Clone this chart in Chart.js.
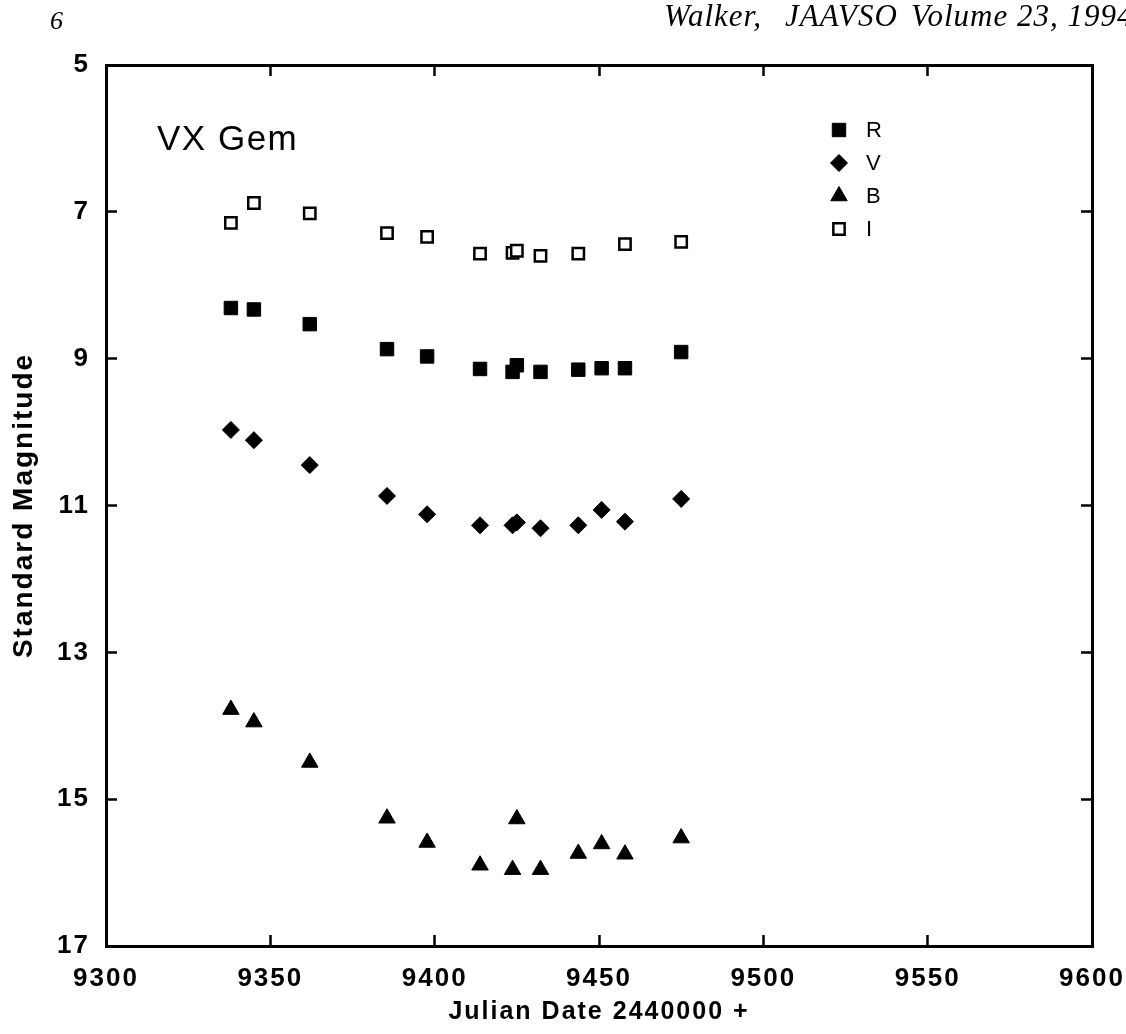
<!DOCTYPE html>
<html>
<head>
<meta charset="utf-8">
<title>VX Gem</title>
<script src="https://cdn.jsdelivr.net/npm/chart.js@4.4.1/dist/chart.umd.min.js"></script>
<style>
  body { margin: 0; background: #fff; overflow: hidden; }
  #page { position: relative; width: 1126px; height: 1034px; background: #fff; overflow: hidden; }
  #chart { position: absolute; left: 0; top: 0; }
  .head {
    position: absolute;
    font-family: "Liberation Serif", "Times New Roman", serif;
    font-style: italic;
    font-size: 31px;
    line-height: 31px;
    letter-spacing: 1px;
    white-space: nowrap;
    color: #000;
  }
</style>
</head>
<body>
<div id="page">
  <canvas id="chart" width="1126" height="1034"></canvas>
  <div class="head" style="left:50px;top:8px;font-size:26px;line-height:26px;letter-spacing:0;">6</div>
  <div class="head" style="left:664px;top:0px;">Walker,</div>
  <div class="head" style="left:785px;top:0px;">JAAVSO</div>
  <div class="head" style="left:911px;top:0px;">Volume 23, 1994</div>
</div>
<script>
// observation nights (JD - 2440000)
const dates = [9338, 9345, 9362, 9385.5, 9397.7, 9413.8, 9423.7, 9425, 9432.2, 9443.7, 9450.8, 9457.9, 9475];
const datesI = [9338, 9345, 9362, 9385.5, 9397.7, 9413.8, 9423.7, 9425, 9432.2, 9443.7, 9457.9, 9475];

// standard magnitudes per band
const magR = [8.31, 8.33, 8.53, 8.87, 8.97, 9.14, 9.18, 9.09, 9.18, 9.15, 9.13, 9.13, 8.91];
const magV = [9.97, 10.11, 10.45, 10.87, 11.12, 11.27, 11.27, 11.23, 11.31, 11.27, 11.06, 11.22, 10.91];
const magB = [13.78, 13.95, 14.50, 15.26, 15.59, 15.90, 15.96, 15.27, 15.96, 15.74, 15.61, 15.75, 15.53];
const magI = [7.15, 6.88, 7.02, 7.29, 7.34, 7.57, 7.56, 7.53, 7.60, 7.57, 7.44, 7.41];

const bands = ["R", "V", "B", "I"];
const xTicks = [9300, 9350, 9400, 9450, 9500, 9550, 9600];
const yTicks = [5, 7, 9, 11, 13, 15, 17];

const starName = "VX Gem";
const xTitle = "Julian Date 2440000 +";
const yTitle = "Standard Magnitude";

const sans = "'Liberation Sans', Arial, Helvetica, sans-serif";

function toPoints(xs, ys) {
  return xs.map((x, i) => ({ x: x, y: ys[i] }));
}

// star name + legend drawn inside the frame, plus wider text for the axes
const annotate = {
  id: "annotate",
  beforeDraw(chart) {
    chart.ctx.letterSpacing = "2px";
  },
  afterDraw(chart) {
    const ctx = chart.ctx;
    const area = chart.chartArea;
    ctx.save();
    ctx.letterSpacing = "1.5px";
    ctx.fillStyle = "#000";
    ctx.font = "35px " + sans;
    ctx.textBaseline = "alphabetic";
    ctx.textAlign = "left";
    ctx.fillText(starName, area.left + 51, area.top + 85);

    ctx.letterSpacing = "0px";
    ctx.font = "22px " + sans;
    ctx.textBaseline = "middle";
    chart.data.datasets.forEach((ds, i) => {
      const x = area.left + 733;
      const y = area.top + 65 + i * 33;
      ctx.fillStyle = ds.backgroundColor;
      ctx.strokeStyle = ds.borderColor;
      ctx.lineWidth = ds.borderWidth;
      Chart.helpers.drawPoint(ctx, {
        pointStyle: ds.pointStyle,
        radius: ds.pointRadius,
        rotation: 0,
        borderWidth: ds.borderWidth
      }, x, y);
      ctx.fillStyle = "#000";
      ctx.fillText(ds.label, x + 27, y + 1);
    });
    ctx.restore();
  }
};

const frame = {
  display: true,
  color: "#000",
  width: 3
};

const tickMarks = {
  drawOnChartArea: false,
  drawTicks: true,
  tickLength: -11,
  tickWidth: 2.5,
  tickColor: "#000"
};

// keep the frame where the reference puts it: no extra room for edge labels
function noEdgePadding(s) {
  s.paddingLeft = 0;
  s.paddingRight = 0;
  s.paddingTop = 0;
  s.paddingBottom = 0;
}

const ctx = document.getElementById("chart");

new Chart(ctx, {
  type: "scatter",
  data: {
    datasets: [
      {
        label: bands[0],
        data: toPoints(dates, magR),
        pointStyle: "rect",
        pointRadius: 9.5,
        backgroundColor: "#000",
        borderColor: "#000",
        borderWidth: 1
      },
      {
        label: bands[1],
        data: toPoints(dates, magV),
        pointStyle: "rectRot",
        pointRadius: 8.5,
        backgroundColor: "#000",
        borderColor: "#000",
        borderWidth: 1
      },
      {
        label: bands[2],
        data: toPoints(dates, magB),
        pointStyle: "triangle",
        pointRadius: 9.5,
        backgroundColor: "#000",
        borderColor: "#000",
        borderWidth: 1
      },
      {
        label: bands[3],
        data: toPoints(datesI, magI),
        pointStyle: "rect",
        pointRadius: 8,
        backgroundColor: "#fff",
        borderColor: "#000",
        borderWidth: 2.5
      }
    ]
  },
  options: {
    responsive: false,
    animation: false,
    events: [],
    layout: {
      padding: { top: 65, right: 34, left: 0, bottom: 0 }
    },
    plugins: {
      legend: { display: false },
      tooltip: { enabled: false }
    },
    scales: {
      x: {
        type: "linear",
        position: "bottom",
        min: xTicks[0],
        max: xTicks[xTicks.length - 1],
        afterBuildTicks: (s) => { s.ticks = xTicks.map((v) => ({ value: v })); },
        ticks: {
          color: "#000",
          font: { family: sans, size: 26, weight: "bold" },
          padding: 28,
          maxRotation: 0,
          autoSkip: false,
          callback: (v) => String(v)
        },
        grid: tickMarks,
        border: frame,
        title: {
          display: true,
          text: xTitle,
          color: "#000",
          font: { family: sans, size: 25, weight: "bold" },
          padding: { top: 0, bottom: 7 }
        },
        afterFit: (s) => { s.height = 88; noEdgePadding(s); }
      },
      x2: {
        type: "linear",
        axis: "x",
        position: "top",
        min: xTicks[0],
        max: xTicks[xTicks.length - 1],
        afterBuildTicks: (s) => { s.ticks = xTicks.map((v) => ({ value: v })); },
        ticks: { display: false },
        grid: tickMarks,
        border: frame,
        afterFit: (s) => { s.height = 0; noEdgePadding(s); }
      },
      y: {
        type: "linear",
        position: "left",
        reverse: true,
        min: yTicks[0],
        max: yTicks[yTicks.length - 1],
        afterBuildTicks: (s) => { s.ticks = yTicks.map((v) => ({ value: v })); },
        ticks: {
          color: "#000",
          font: { family: sans, size: 26, weight: "bold" },
          padding: 27,
          autoSkip: false,
          callback: (v) => String(v)
        },
        grid: tickMarks,
        border: frame,
        title: {
          display: true,
          text: yTitle,
          color: "#000",
          font: { family: sans, size: 28, weight: "bold" },
          padding: { top: 7, bottom: 0 }
        },
        afterFit: (s) => { s.width = 106; noEdgePadding(s); }
      },
      y2: {
        type: "linear",
        axis: "y",
        position: "right",
        reverse: true,
        min: yTicks[0],
        max: yTicks[yTicks.length - 1],
        afterBuildTicks: (s) => { s.ticks = yTicks.map((v) => ({ value: v })); },
        ticks: { display: false },
        grid: tickMarks,
        border: frame,
        afterFit: (s) => { s.width = 0; noEdgePadding(s); }
      }
    }
  },
  plugins: [annotate]
});
</script>
</body>
</html>
